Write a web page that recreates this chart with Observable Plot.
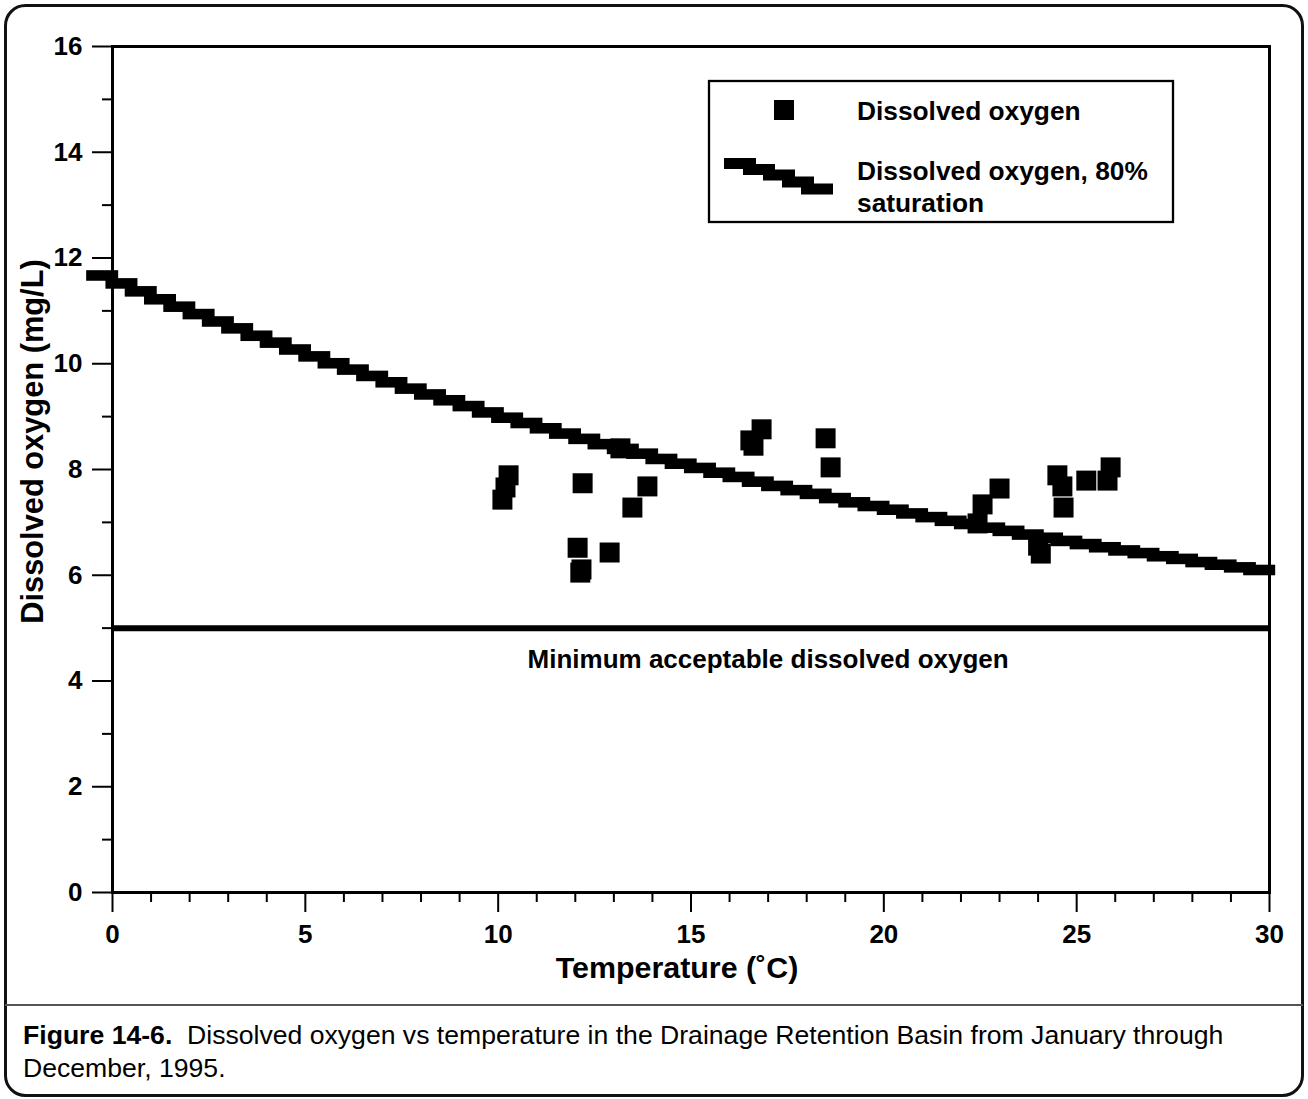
<!DOCTYPE html>
<html>
<head>
<meta charset="utf-8">
<script src="https://cdn.jsdelivr.net/npm/d3@7"></script>
<script src="https://cdn.jsdelivr.net/npm/@observablehq/plot@0.6"></script>
<style>
  html, body { margin: 0; padding: 0; background: #fff; }
  #page { position: relative; width: 1308px; height: 1099px; overflow: hidden; background: #fff;
          font-family: "Liberation Sans", Arial, Helvetica, sans-serif; color: #000; }
  #chart { position: absolute; left: 0; top: 0; }
  #decor { position: absolute; left: 0; top: 0; pointer-events: none; }
  #caption { position: absolute; left: 23px; top: 1019px; font-size: 26.6px; line-height: 33px; white-space: pre; }
  #caption div { display: block; }
</style>
</head>
<body>
<div id="page">
  <div id="chart"></div>
  <svg id="decor" width="1308" height="1099"></svg>
  <div id="caption"><div><b>Figure 14-6.</b><span>  Dissolved oxygen vs temperature in the Drainage Retention Basin from January through</span></div><div><span>December, 1995.</span></div></div>
</div>
<script>
// ---- Data ----
// Measured dissolved oxygen samples: temperature (°C) and DO (mg/L)
const sampleTemp = [10.11, 10.19, 10.27, 12.06, 12.13, 12.16, 12.19, 12.89, 13.17, 13.48, 13.87,
                    16.54, 16.62, 16.83, 18.49, 18.62, 22.43, 22.56, 23.00, 24.00, 24.07,
                    24.50, 24.63, 24.66, 25.25, 25.80, 25.88];
const sampleDO   = [7.43, 7.66, 7.89, 6.52, 6.05, 6.11, 7.74, 6.43, 8.40, 7.28, 7.68,
                    8.55, 8.45, 8.76, 8.59, 8.04, 6.98, 7.34, 7.64, 6.56, 6.41,
                    7.89, 7.68, 7.28, 7.79, 7.79, 8.04];

// 80% saturation curve (stepped blocks)
const satTemp = [0, 0.5, 1, 1.5, 2, 2.5, 3, 3.5, 4, 4.5, 5, 5.5, 6, 6.5, 7, 7.5, 8, 8.5, 9, 9.5,
                 10, 10.5, 11, 11.5, 12, 12.5, 13, 13.5, 14, 14.5, 15, 15.5, 16, 16.5, 17, 17.5,
                 18, 18.5, 19, 19.5, 20, 20.5, 21, 21.5, 22, 22.5, 23, 23.5, 24, 24.5, 25, 25.5,
                 26, 26.5, 27, 27.5, 28, 28.5, 29, 29.5, 30];
const satDO = [11.66, 11.51, 11.36, 11.21, 11.07, 10.93, 10.79, 10.66, 10.52, 10.39, 10.26, 10.13,
               10.00, 9.88, 9.76, 9.64, 9.52, 9.41, 9.30, 9.19, 9.07, 8.97, 8.87, 8.77, 8.67, 8.57,
               8.47, 8.38, 8.29, 8.19, 8.10, 8.02, 7.93, 7.85, 7.76, 7.68, 7.60, 7.53, 7.45, 7.37,
               7.30, 7.23, 7.16, 7.09, 7.02, 6.96, 6.89, 6.83, 6.76, 6.70, 6.64, 6.58, 6.52, 6.46,
               6.41, 6.35, 6.30, 6.24, 6.19, 6.14, 6.09];

const minimumDO = [5];
const minimumLabel = ["Minimum acceptable dissolved oxygen"];
const minimumLabelTemp = [17];

const xMajorTicks = [0, 5, 10, 15, 20, 25, 30];
const xMinorTicks = [1, 2, 3, 4, 6, 7, 8, 9, 11, 12, 13, 14, 16, 17, 18, 19, 21, 22, 23, 24, 26, 27, 28, 29];
const yMajorTicks = [0, 2, 4, 6, 8, 10, 12, 14, 16];
const yMinorTicks = [1, 3, 5, 7, 9, 11, 13, 15];

const xTitle = "Temperature (\u02DAC)";
const yTitle = "Dissolved oxygen (mg/L)";
const legendLabels = ["Dissolved oxygen", "Dissolved oxygen, 80%", "saturation"];

// ---- Build tables ----
const samples = sampleTemp.map((t, i) => ({t, v: sampleDO[i]}));
const sat = satTemp.map((t, i) => ({t, v: satDO[i]}));
const minLabel = minimumLabel.map((s, i) => ({s, t: minimumLabelTemp[i], v: minimumDO[i]}));

const FONT = "Liberation Sans, Arial, Helvetica, sans-serif";

const chart = Plot.plot({
  width: 1308,
  height: 1005,
  marginLeft: 112,
  marginRight: 39,
  marginTop: 46,
  marginBottom: 113,
  style: {fontFamily: FONT, fontSize: "26px", color: "#000", background: "transparent", overflow: "visible"},
  x: {domain: [0, 30]},
  y: {domain: [0, 16]},
  marks: [
    Plot.rect(sat, {x1: d => d.t - 0.67, x2: d => d.t + 0.16, y1: d => d.v - 0.1, y2: d => d.v + 0.1, fill: "#000"}),
    Plot.ruleY(minimumDO, {stroke: "#000", strokeWidth: 6}),
    Plot.text(minLabel, {x: "t", y: "v", text: "s", dy: 32, fontWeight: "bold", fontSize: 26, fill: "#000", textAnchor: "middle", lineAnchor: "middle"}),
    Plot.dot(samples, {x: "t", y: "v", symbol: "square", r: 11.28, fill: "#000", stroke: "none"}),
    Plot.frame({stroke: "#000", strokeWidth: 3}),
    Plot.axisX({ticks: xMajorTicks, tickSize: 20, tickPadding: 12, strokeWidth: 2, fontWeight: "bold", fontSize: 26, label: null, tickFormat: d => String(d)}),
    Plot.axisX({ticks: xMinorTicks, tickSize: 10, strokeWidth: 2, label: null, tickFormat: () => ""}),
    Plot.axisY({ticks: yMajorTicks, tickSize: 20, tickPadding: 10, strokeWidth: 2, fontWeight: "bold", fontSize: 26, label: null, tickFormat: d => String(d)}),
    Plot.axisY({ticks: yMinorTicks, tickSize: 10, strokeWidth: 2, label: null, tickFormat: () => ""}),
    Plot.text([xTitle], {frameAnchor: "bottom", text: d => d, dx: -14, dy: 76, fontWeight: "bold", fontSize: 30.4, fill: "#000", textAnchor: "middle", lineAnchor: "middle"}),
    Plot.text([yTitle], {frameAnchor: "left", text: d => d, rotate: -90, dx: -79, dy: -28, fontWeight: "bold", fontSize: 30.8, fill: "#000", textAnchor: "middle", lineAnchor: "middle"})
  ]
});
document.getElementById("chart").appendChild(chart);

// ---- Decorations: outer rounded border, divider, legend ----
const decor = d3.select("#decor");
decor.append("rect")
  .attr("x", 5.5).attr("y", 5.5).attr("width", 1297).attr("height", 1090)
  .attr("rx", 20).attr("ry", 20)
  .attr("fill", "none").attr("stroke", "#111").attr("stroke-width", 3);
decor.append("line")
  .attr("x1", 5).attr("x2", 1303).attr("y1", 1005).attr("y2", 1005)
  .attr("stroke", "#555").attr("stroke-width", 2);

const lg = decor.append("g");
lg.append("rect")
  .attr("x", 709).attr("y", 81).attr("width", 464).attr("height", 141)
  .attr("fill", "none").attr("stroke", "#000").attr("stroke-width", 2.3);
lg.append("rect")
  .attr("x", 774).attr("y", 100).attr("width", 20).attr("height", 20).attr("fill", "#000");
const legendSteps = [[724, 158], [743, 164], [763, 169.5], [782, 176.5], [801, 183.5]];
lg.selectAll("rect.step").data(legendSteps).join("rect")
  .attr("class", "step")
  .attr("x", d => d[0]).attr("y", d => d[1]).attr("width", 32).attr("height", 11)
  .attr("fill", "#000");
const legendTextPos = [[857, 120], [857, 180], [857, 212]];
lg.selectAll("text").data(legendLabels).join("text")
  .attr("x", (d, i) => legendTextPos[i][0]).attr("y", (d, i) => legendTextPos[i][1])
  .attr("font-family", FONT).attr("font-size", 26.3).attr("font-weight", "bold")
  .attr("fill", "#000")
  .text(d => d);
</script>
</body>
</html>
